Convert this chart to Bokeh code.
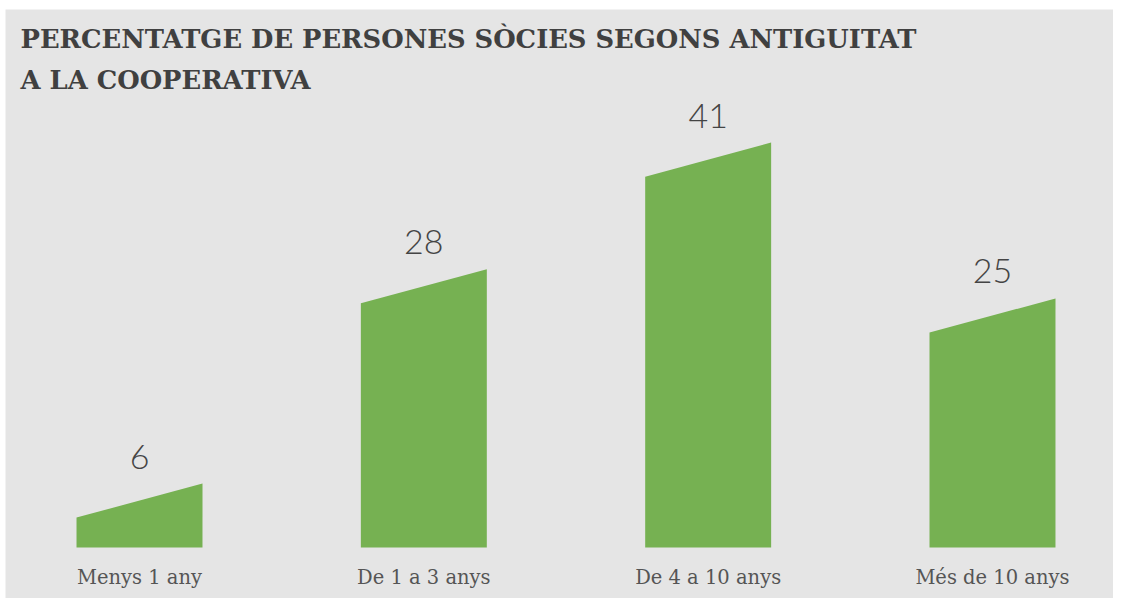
from bokeh.plotting import figure
from bokeh.models import Range1d, Label, LabelSet, ColumnDataSource
from bokeh.core.properties import value
from bokeh.embed import file_html
from bokeh.resources import INLINE

# ---- data ----
categories = ["Menys 1 any", "De 1 a 3 anys", "De 4 a 10 anys", "Més de 10 anys"]
values = [6, 28, 41, 25]
title_lines = ["PERCENTATGE DE PERSONES SÒCIES SEGONS ANTIGUITAT", "A LA COOPERATIVA"]

# ---- style ----
BG = "#e5e5e5"
GREEN = "#76b152"
TXT = "#444444"
W, H = 1113, 598
LEFT, TOP = 5, 9
PXU = 9.74          # pixels per percentage point
Y0 = 1.18           # value at the bars' base line
BASE_PAD = 51       # pixels below base line inside the panel
BAR_W = 0.443
SLANT = 1.75        # half of the slanted top rise, in value units
SPACING = 284.33    # pixels between category centres
FIRST = 134         # pixels from panel left to first centre

frame_w = W - LEFT
frame_h = H - TOP
idx = list(range(len(categories)))
y_start = Y0 - BASE_PAD / PXU
x_start = -FIRST / SPACING

p = figure(width=W, height=H, output_backend="svg", toolbar_location=None,
           x_range=Range1d(x_start, x_start + frame_w / SPACING),
           y_range=Range1d(y_start, y_start + frame_h / PXU),
           x_axis_location=None, y_axis_location=None,
           background_fill_color=BG, border_fill_color="white", outline_line_color=None,
           min_border_left=LEFT, min_border_right=0, min_border_top=TOP,
           min_border_bottom=0)
p.grid.visible = False

xs = [[i - BAR_W / 2, i + BAR_W / 2, i + BAR_W / 2, i - BAR_W / 2] for i in idx]
ys = [[Y0, Y0, v + SLANT, v - SLANT] for v in values]
p.patches(xs=xs, ys=ys, fill_color=GREEN, line_color=None)

src = ColumnDataSource(dict(x=idx, y=values, t=[str(v) for v in values],
                            base=[Y0] * len(idx), cat=categories))
p.add_layout(LabelSet(x="x", y="y", text="t", source=src, y_offset=32,
                      text_align="center", text_baseline="alphabetic",
                      text_font=value("Lato Light"), text_font_size="34px",
                      text_color=TXT))
p.add_layout(LabelSet(x="x", y="base", text="cat", source=src, y_offset=-36,
                      text_align="center", text_baseline="alphabetic",
                      text_font=value("DejaVu Serif"), text_font_size="19.5px",
                      text_color="#555555"))

for k, line in enumerate(title_lines):
    p.add_layout(Label(x=15, y=frame_h - 29 - 41 * k, x_units="screen", y_units="screen",
                       text=line, text_font="DejaVu Serif", text_font_style="bold",
                       text_font_size="25.8px", text_color="#404040",
                       text_baseline="alphabetic"))

open("out.html", "w").write(file_html(p, INLINE))
